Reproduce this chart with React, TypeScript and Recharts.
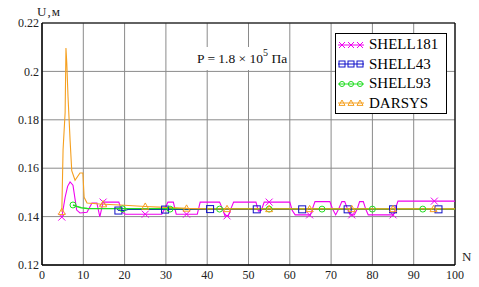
import React from 'react';
import { ComposedChart, Line, Scatter, XAxis, YAxis, CartesianGrid, ReferenceLine } from 'recharts';

const xTicks = [0, 10, 20, 30, 40, 50, 60, 70, 80, 90, 100];
const yTicks = [0.12, 0.14, 0.16, 0.18, 0.2, 0.22];
const yTickLabels = ['0.12', '0.14', '0.16', '0.18', '0.2', '0.22'];

const seriesNames = ['SHELL181', 'SHELL43', 'SHELL93', 'DARSYS'];
const seriesColors = ['#f000f0', '#1010c8', '#22dd22', '#f5a020'];

const shell181N = [4.8, 5.6, 6.2, 6.8, 7.5, 8.4, 9.2, 10.9, 12.1, 13.3, 14.0, 14.8, 18.6, 19.4, 20.2, 29.0, 29.8, 30.5, 31.8, 32.5, 37.6, 38.3, 43.0, 43.7, 44.3, 45.1, 45.8, 46.4, 51.8, 52.4, 53.1, 53.8, 60.0, 60.6, 61.3, 65.0, 65.6, 66.1, 69.7, 70.4, 71.1, 71.8, 72.6, 73.3, 74.0, 74.6, 75.6, 76.3, 76.9, 77.8, 78.4, 79.0, 85.1, 85.6, 86.2, 100];
const shell181U = [0.1398, 0.148, 0.1525, 0.1543, 0.153, 0.1427, 0.1415, 0.1418, 0.1456, 0.1456, 0.1399, 0.146, 0.146, 0.1418, 0.141, 0.141, 0.1435, 0.146, 0.146, 0.141, 0.141, 0.146, 0.146, 0.1432, 0.1403, 0.1403, 0.1435, 0.146, 0.146, 0.1423, 0.1425, 0.146, 0.146, 0.1425, 0.1407, 0.1407, 0.1438, 0.1462, 0.1462, 0.143, 0.1407, 0.143, 0.1462, 0.1462, 0.143, 0.1407, 0.1407, 0.143, 0.1462, 0.1462, 0.143, 0.1407, 0.1407, 0.1435, 0.1464, 0.1464];
const shell181MarkN = [4.8, 14.8, 25, 35, 44.8, 55, 64.8, 75, 85, 95];
const shell181MarkU = [0.1398, 0.146, 0.141, 0.141, 0.1403, 0.146, 0.1407, 0.1407, 0.1407, 0.1464];

const shell43N = [18.2, 18.6, 20.0, 21.0, 100];
const shell43U = [0.1432, 0.1425, 0.1425, 0.143, 0.143];
const shell43MarkN = [18.5, 29.8, 40.7, 52, 63, 74, 85, 96];
const shell43MarkU = [0.1425, 0.1429, 0.1431, 0.143, 0.143, 0.143, 0.143, 0.143];

const shell93N = [7.5, 8.5, 9.5, 11.0, 100];
const shell93U = [0.1448, 0.1442, 0.1437, 0.1433, 0.1431];
const shell93MarkN = [7.5, 19.5, 31, 43, 55, 67.8, 80, 92.2];
const shell93MarkU = [0.1448, 0.1432, 0.1431, 0.1431, 0.1431, 0.1431, 0.1431, 0.1431];

const darsysN = [4.8, 5.1, 5.6, 5.8, 6.0, 6.3, 6.8, 7.2, 8.0, 9.2, 9.9, 10.2, 10.9, 14.0, 20.0, 25.0, 30.0, 35.0, 40.0, 100];
const darsysU = [0.142, 0.1675, 0.183, 0.2097, 0.2035, 0.1895, 0.1716, 0.159, 0.155, 0.158, 0.158, 0.148, 0.1456, 0.1452, 0.1447, 0.1442, 0.1438, 0.1434, 0.1432, 0.1432];
const darsysMarkN = [4.8, 14.8, 25, 35, 44.8, 55, 64.8, 75, 85, 94.8];
const darsysMarkU = [0.142, 0.1452, 0.1442, 0.1434, 0.1432, 0.1432, 0.1432, 0.1432, 0.1432, 0.1432];

const toPoints = (n: number[], u: number[]) => n.map((x, i) => ({ n: x, u: u[i] }));

const lines = [toPoints(shell181N, shell181U), toPoints(shell43N, shell43U), toPoints(shell93N, shell93U), toPoints(darsysN, darsysU)];
const marks = [toPoints(shell181MarkN, shell181MarkU), toPoints(shell43MarkN, shell43MarkU), toPoints(shell93MarkN, shell93MarkU), toPoints(darsysMarkN, darsysMarkU)];

const FONT = '"Liberation Serif", "DejaVu Serif", "Times New Roman", Times, serif';

function Marker({ kind, cx, cy, color, s = 3.5 }: { kind: number; cx: number; cy: number; color: string; s?: number }) {
  if (kind === 0) {
    return (
      <g stroke={color} strokeWidth={1} fill="none">
        <line x1={cx - s} y1={cy - s} x2={cx + s} y2={cy + s} />
        <line x1={cx - s} y1={cy + s} x2={cx + s} y2={cy - s} />
      </g>
    );
  }
  if (kind === 1) {
    return <rect x={cx - s} y={cy - s} width={2 * s} height={2 * s} stroke={color} strokeWidth={1} fill="none" />;
  }
  if (kind === 2) {
    return <circle cx={cx} cy={cy} r={s * 0.85} stroke={color} strokeWidth={1} fill="none" />;
  }
  return (
    <polygon
      points={`${cx},${cy - s} ${cx - s},${cy + s * 0.8} ${cx + s},${cy + s * 0.8}`}
      stroke={color}
      strokeWidth={1}
      fill="none"
    />
  );
}

function LegendBox() {
  return (
    <div
      style={{
        position: 'absolute',
        left: 335,
        top: 33,
        width: 110,
        height: 79,
        background: '#fff',
        border: '1px solid #000',
        fontFamily: FONT,
        fontSize: 15,
        color: '#000',
      }}
    >
      {seriesNames.map((name, i) => (
        <div key={name} style={{ position: 'absolute', left: 0, top: 1 + i * 19.6, height: 19, display: 'flex', alignItems: 'center' }}>
          <svg width={30} height={12} style={{ marginLeft: 1 }}>
            <line x1={1} y1={6} x2={27} y2={6} stroke={seriesColors[i]} strokeWidth={1} />
            {[5, 14, 23].map((x) => (
              <Marker key={x} kind={i} cx={x} cy={6} color={seriesColors[i]} s={3} />
            ))}
          </svg>
          <span style={{ marginLeft: 2, whiteSpace: 'nowrap', fontFamily: FONT }}>{name}</span>
        </div>
      ))}
    </div>
  );
}

export default function App() {
  return (
    <div style={{ position: 'absolute', left: 0, top: 0, width: 479, height: 287, background: '#fff', fontFamily: FONT }}>
      <ComposedChart width={479} height={287} margin={{ top: 23, right: 24, bottom: 0, left: 0 }} style={{ fontFamily: FONT }}>
        <CartesianGrid stroke="#8a8a8a" strokeWidth={1} />
        <XAxis
          type="number"
          dataKey="n"
          domain={[0, 100]}
          ticks={xTicks}
          height={22}
          tickSize={0}
          tickMargin={5}
          axisLine={{ stroke: '#000', strokeWidth: 1.5 }}
          tick={{ fill: '#222', fontSize: 12, fontFamily: FONT }}
          allowDataOverflow
        />
        <YAxis
          type="number"
          dataKey="u"
          domain={[0.12, 0.22]}
          ticks={yTicks}
          tickFormatter={(v: number) => yTickLabels[yTicks.indexOf(v)] ?? String(v)}
          width={42}
          tickSize={0}
          tickMargin={3}
          axisLine={{ stroke: '#000', strokeWidth: 1.5 }}
          tick={{ fill: '#222', fontSize: 12, fontFamily: FONT }}
          allowDataOverflow
        />
        <ReferenceLine y={0.22} stroke="#000" strokeWidth={1.2} />
        <ReferenceLine x={100} stroke="#000" strokeWidth={1.2} />
        {lines.map((pts, i) => (
          <Line
            key={seriesNames[i]}
            data={pts}
            dataKey="u"
            type="linear"
            stroke={seriesColors[i]}
            strokeWidth={i === 2 ? 1.5 : 1.1}
            dot={false}
            activeDot={false}
            isAnimationActive={false}
            legendType="none"
          />
        ))}
        {marks.map((pts, i) => (
          <Scatter
            key={'m' + seriesNames[i]}
            data={pts}
            dataKey="u"
            isAnimationActive={false}
            legendType="none"
            shape={(p: any) => <Marker kind={i} cx={p.cx} cy={p.cy} color={seriesColors[i]} />}
          />
        ))}
      </ComposedChart>
      <div style={{ position: 'absolute', left: 37, top: 4, fontFamily: FONT, fontSize: 13, color: '#222', letterSpacing: 1 }}>U,м</div>
      <div style={{ position: 'absolute', left: 462, top: 249, fontFamily: FONT, fontSize: 13, color: '#222' }}>N</div>
      <div
        style={{
          position: 'absolute',
          left: 194,
          top: 47,
          height: 23,
          paddingLeft: 3,
          paddingRight: 2,
          background: '#fff',
          fontFamily: FONT,
          fontSize: 13.5,
          color: '#111',
          whiteSpace: 'nowrap',
          lineHeight: '23px',
        }}
      >
        P = 1.8 × 10<sup style={{ fontSize: 10, verticalAlign: 'top', position: 'relative', top: -6 }}>5</sup> Па
      </div>
      <LegendBox />
    </div>
  );
}
